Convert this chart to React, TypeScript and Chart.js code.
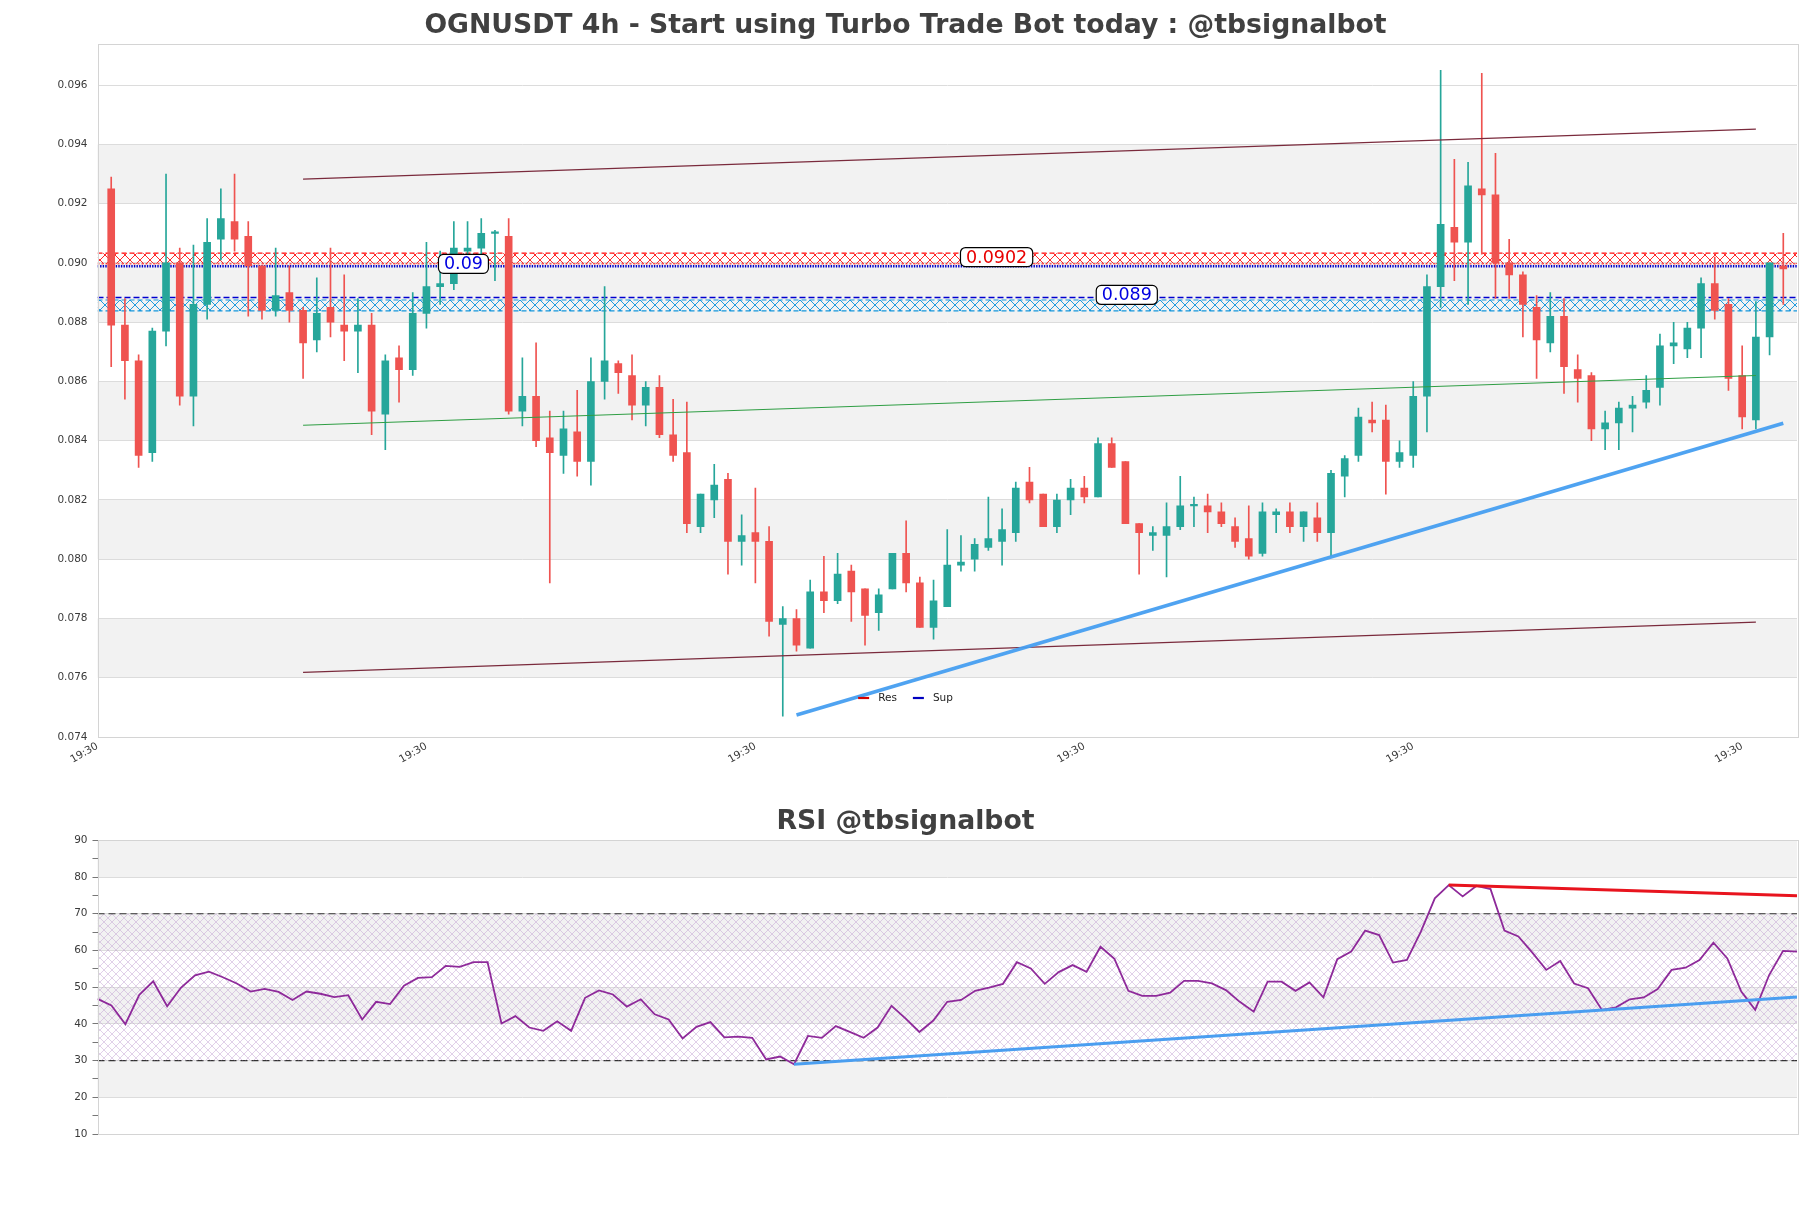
import React, { useEffect, useRef } from 'react';
import { Chart, registerables } from 'chart.js';

Chart.register(...registerables);

const FONT = "'DejaVu Sans', 'Liberation Sans', sans-serif";
const UP = '#26a69a';
const DOWN = '#ef5350';

// ---------- price data (4h candles) ----------
const opens = [
  0.0925, 0.0879, 0.0867, 0.0836, 0.0877, 0.0900, 0.0855, 0.0886, 0.0908, 0.0914,
  0.0909, 0.0899, 0.0884, 0.0890, 0.0884, 0.0874, 0.0885, 0.0879, 0.0877, 0.0879,
  0.0849, 0.0868, 0.0864, 0.0883, 0.0892, 0.0893, 0.0904, 0.0905, 0.0910, 0.0909,
  0.0850, 0.0855, 0.0841, 0.0835, 0.0843, 0.0833, 0.0860, 0.0866, 0.0862, 0.0852,
  0.0858, 0.0842, 0.0836, 0.0811, 0.0820, 0.0827, 0.0806, 0.0809, 0.0806, 0.0778,
  0.0780, 0.0770, 0.0789, 0.0786, 0.0796, 0.0790, 0.0782, 0.0790, 0.0802, 0.0792,
  0.0777, 0.0784, 0.0798, 0.0800, 0.0804, 0.0806, 0.0809, 0.0826, 0.0822, 0.0811,
  0.0820, 0.0824, 0.0821, 0.0839, 0.0833, 0.0812, 0.0808, 0.0808, 0.0811, 0.0818,
  0.0818, 0.0816, 0.0811, 0.0807, 0.0802, 0.0815, 0.0816, 0.0811, 0.0814, 0.0809,
  0.0828, 0.0835, 0.0847, 0.0847, 0.0833, 0.0835, 0.0855, 0.0892, 0.0912, 0.0907,
  0.0925, 0.0923, 0.0900, 0.0896, 0.0885, 0.0873, 0.0882, 0.0864, 0.0862, 0.0844,
  0.0846, 0.0851, 0.0853, 0.0858, 0.0872, 0.0871, 0.0878, 0.0893, 0.0886, 0.0862,
  0.0847, 0.0875, 0.0899,
];
const highs = [
  0.0929, 0.0888, 0.0869, 0.0878, 0.0930, 0.0905, 0.0906, 0.0915, 0.0925, 0.0930,
  0.0914, 0.0899, 0.0905, 0.0899, 0.0885, 0.0895, 0.0905, 0.0896, 0.0888, 0.0883,
  0.0869, 0.0872, 0.0890, 0.0907, 0.0904, 0.0914, 0.0914, 0.0915, 0.0911, 0.0915,
  0.0868, 0.0873, 0.0850, 0.0850, 0.0857, 0.0868, 0.0892, 0.0867, 0.0869, 0.0860,
  0.0862, 0.0854, 0.0853, 0.0822, 0.0832, 0.0829, 0.0815, 0.0824, 0.0811, 0.0784,
  0.0783, 0.0793, 0.0801, 0.0802, 0.0798, 0.0790, 0.0790, 0.0802, 0.0813, 0.0794,
  0.0793, 0.0810, 0.0808, 0.0807, 0.0821, 0.0817, 0.0826, 0.0831, 0.0822, 0.0822,
  0.0827, 0.0828, 0.0841, 0.0841, 0.0833, 0.0812, 0.0811, 0.0819, 0.0828, 0.0821,
  0.0822, 0.0819, 0.0814, 0.0818, 0.0819, 0.0817, 0.0819, 0.0816, 0.0819, 0.0830,
  0.0835, 0.0851, 0.0853, 0.0852, 0.0840, 0.0860, 0.0896, 0.0965, 0.0935, 0.0934,
  0.0964, 0.0937, 0.0908, 0.0897, 0.0889, 0.0890, 0.0888, 0.0869, 0.0863, 0.0850,
  0.0853, 0.0855, 0.0862, 0.0876, 0.0880, 0.0880, 0.0895, 0.0902, 0.0888, 0.0872,
  0.0887, 0.0900, 0.0910,
];
const lows = [
  0.0865, 0.0854, 0.0831, 0.0833, 0.0872, 0.0852, 0.0845, 0.0881, 0.0901, 0.0904,
  0.0882, 0.0881, 0.0882, 0.0880, 0.0861, 0.0870, 0.0875, 0.0867, 0.0863, 0.0842,
  0.0837, 0.0853, 0.0862, 0.0878, 0.0886, 0.0891, 0.0899, 0.0903, 0.0894, 0.0849,
  0.0845, 0.0838, 0.0792, 0.0829, 0.0828, 0.0825, 0.0854, 0.0856, 0.0847, 0.0845,
  0.0841, 0.0833, 0.0809, 0.0809, 0.0814, 0.0795, 0.0798, 0.0792, 0.0774, 0.0747,
  0.0769, 0.0770, 0.0782, 0.0785, 0.0779, 0.0771, 0.0776, 0.0790, 0.0789, 0.0777,
  0.0773, 0.0784, 0.0796, 0.0796, 0.0803, 0.0798, 0.0806, 0.0819, 0.0811, 0.0809,
  0.0815, 0.0819, 0.0821, 0.0831, 0.0812, 0.0795, 0.0803, 0.0794, 0.0810, 0.0811,
  0.0809, 0.0811, 0.0804, 0.0800, 0.0801, 0.0809, 0.0809, 0.0806, 0.0806, 0.0801,
  0.0821, 0.0833, 0.0843, 0.0822, 0.0831, 0.0831, 0.0843, 0.0885, 0.0894, 0.0886,
  0.0903, 0.0888, 0.0888, 0.0875, 0.0861, 0.0870, 0.0856, 0.0853, 0.0840, 0.0837,
  0.0837, 0.0843, 0.0851, 0.0852, 0.0866, 0.0868, 0.0868, 0.0881, 0.0857, 0.0844,
  0.0844, 0.0869, 0.0886,
];
const closes = [
  0.0879, 0.0867, 0.0835, 0.0877, 0.0900, 0.0855, 0.0886, 0.0907, 0.0915, 0.0908,
  0.0899, 0.0884, 0.0889, 0.0884, 0.0873, 0.0883, 0.0880, 0.0877, 0.0879, 0.0850,
  0.0867, 0.0864, 0.0883, 0.0892, 0.0893, 0.0905, 0.0905, 0.0910, 0.0910, 0.0850,
  0.0855, 0.0840, 0.0836, 0.0844, 0.0833, 0.0860, 0.0867, 0.0863, 0.0852, 0.0858,
  0.0842, 0.0835, 0.0812, 0.0822, 0.0825, 0.0806, 0.0808, 0.0806, 0.0779, 0.0780,
  0.0771, 0.0789, 0.0786, 0.0795, 0.0789, 0.0781, 0.0788, 0.0802, 0.0792, 0.0777,
  0.0786, 0.0798, 0.0799, 0.0805, 0.0807, 0.0810, 0.0824, 0.0820, 0.0811, 0.0820,
  0.0824, 0.0821, 0.0839, 0.0831, 0.0812, 0.0809, 0.0809, 0.0811, 0.0818, 0.0818,
  0.0816, 0.0812, 0.0806, 0.0801, 0.0816, 0.0816, 0.0811, 0.0816, 0.0809, 0.0829,
  0.0834, 0.0848, 0.0846, 0.0833, 0.0836, 0.0855, 0.0892, 0.0913, 0.0907, 0.0926,
  0.0923, 0.0900, 0.0896, 0.0886, 0.0874, 0.0882, 0.0865, 0.0861, 0.0844, 0.0846,
  0.0851, 0.0852, 0.0857, 0.0872, 0.0873, 0.0878, 0.0893, 0.0884, 0.0861, 0.0848,
  0.0875, 0.0900, 0.0898,
];

// ---------- RSI ----------
const rsiValues = [
  46.8, 45.0, 39.9, 47.9, 51.6, 44.8, 49.9, 53.2, 54.2, 52.7,
  51.0, 48.8, 49.5, 48.7, 46.5, 48.8, 48.2, 47.3, 47.8, 41.2,
  46.0, 45.4, 50.4, 52.5, 52.7, 55.8, 55.5, 56.8, 56.8, 40.1,
  42.1, 39.0, 38.1, 40.7, 38.1, 47.1, 49.1, 48.0, 44.7, 46.7,
  42.6, 41.2, 36.0, 39.2, 40.5, 36.3, 36.5, 36.2, 30.3, 31.1,
  29.0, 36.7, 36.2, 39.4, 37.8, 36.2, 39.0, 44.9, 41.5, 37.8,
  40.9, 46.0, 46.5, 49.0, 49.9, 50.9, 56.8, 55.1, 50.9, 54.1,
  56.0, 54.2, 61.0, 57.7, 49.0, 47.6, 47.6, 48.5, 51.7, 51.7,
  51.0, 49.2, 46.0, 43.3, 51.5, 51.5, 49.0, 51.3, 47.2, 57.6,
  59.7, 65.4, 64.2, 56.7, 57.4, 65.1, 74.2, 77.8, 74.7, 77.6,
  76.7, 65.4, 63.8, 59.4, 54.7, 57.1, 51.0, 49.7, 43.8, 44.5,
  46.7, 47.2, 49.5, 54.7, 55.3, 57.4, 62.1, 57.8, 48.8, 43.8,
  53.3, 59.9, 59.7,
];

// ---------- axes ----------
const xRange = [-1, 123];
const rsiXRange = [0, 122];
const xTickPositions = [-1, 23, 47, 71, 95, 119];
const xTickLabels = ['19:30', '19:30', '19:30', '19:30', '19:30', '19:30'];
const priceRange = [0.074, 0.09739];
const priceTicks = [0.074, 0.076, 0.078, 0.08, 0.082, 0.084, 0.086, 0.088, 0.09, 0.092, 0.094, 0.096];
const priceBands = [[0.076, 0.078], [0.08, 0.082], [0.084, 0.086], [0.088, 0.09], [0.092, 0.094]];
const rsiRange = [10, 90];
const rsiBands = [[20, 30], [40, 50], [60, 70], [80, 90]];

// ---------- overlays ----------
const channelUpper = [{ x: 14, y: 0.09283 }, { x: 120, y: 0.09452 }];
const channelLower = [{ x: 14, y: 0.07618 }, { x: 120, y: 0.07788 }];
const channelMid = [{ x: 14, y: 0.08452 }, { x: 120, y: 0.0862 }];
const supportTrend = [{ x: 50, y: 0.07474 }, { x: 122, y: 0.08459 }];
const resZone = [0.09033, 0.08997];
const supZone = [0.08875, 0.08838];
const supDottedLevel = 0.08989;
const supDashedLevel = 0.08883;
const levelTags = [
  { text: '0.0902', x: 64.6, y: 0.0902, color: '#e80000' },
  { text: '0.09', x: 25.7, y: 0.08997, color: '#0000e0' },
  { text: '0.089', x: 74.1, y: 0.08892, color: '#0000e0' },
];
const legendItems = [
  { label: 'Res', color: '#d40000' },
  { label: 'Sup', color: '#0000c0' },
];
const rsiResTrend = [{ x: 97, y: 77.8 }, { x: 122, y: 74.9 }];
const rsiSupTrend = [{ x: 50, y: 29.0 }, { x: 122, y: 47.3 }];
const rsiLevels = [70, 30];

const MAIN_TITLE = 'OGNUSDT 4h - Start using Turbo Trade Bot today : @tbsignalbot';
const RSI_TITLE = 'RSI @tbsignalbot';

function makeHatch(color: string, size: number, lw: number): CanvasPattern {
  const c = document.createElement('canvas');
  c.width = size;
  c.height = size;
  const g = c.getContext('2d')!;
  g.strokeStyle = color;
  g.lineWidth = lw;
  g.beginPath();
  g.moveTo(-1, -1);
  g.lineTo(size + 1, size + 1);
  g.moveTo(size + 1, -1);
  g.lineTo(-1, size + 1);
  g.stroke();
  return g.createPattern(c, 'repeat')!;
}

const hline = (v: number, range: number[]) => [{ x: range[0], y: v }, { x: range[1], y: v }];

function bandsPlugin(bands: number[][]) {
  return {
    id: 'bands',
    beforeDraw(chart: any) {
      const { ctx, chartArea, scales } = chart;
      ctx.save();
      ctx.fillStyle = '#f2f2f2';
      for (const [a, b] of bands) {
        const t = scales.y.getPixelForValue(b);
        const bt = scales.y.getPixelForValue(a);
        ctx.fillRect(chartArea.left, t, chartArea.right - chartArea.left, bt - t);
      }
      ctx.restore();
    },
  };
}

function framePlugin() {
  return {
    id: 'frame',
    afterDraw(chart: any) {
      const { ctx, chartArea } = chart;
      ctx.save();
      ctx.strokeStyle = '#d4d4d4';
      ctx.lineWidth = 1;
      ctx.strokeRect(
        Math.round(chartArea.left) + 0.5,
        Math.round(chartArea.top) + 0.5,
        Math.round(chartArea.right - chartArea.left),
        Math.round(chartArea.bottom - chartArea.top)
      );
      ctx.restore();
    },
  };
}

function titlePlugin(text: string, baseline: number) {
  return {
    id: 'figTitle',
    afterDraw(chart: any) {
      const { ctx, width } = chart;
      ctx.save();
      ctx.font = `bold 26.7px ${FONT}`;
      ctx.fillStyle = '#404040';
      ctx.textAlign = 'center';
      ctx.textBaseline = 'alphabetic';
      ctx.fillText(text, width / 2, baseline);
      ctx.restore();
    },
  };
}

function tagsPlugin() {
  return {
    id: 'tags',
    afterDatasetsDraw(chart: any) {
      const { ctx, scales } = chart;
      ctx.save();
      ctx.font = `17.5px ${FONT}`;
      for (const t of levelTags) {
        const px = scales.x.getPixelForValue(t.x);
        const py = scales.y.getPixelForValue(t.y);
        const w = ctx.measureText(t.text).width + 11;
        const h = 19;
        const x0 = px - w / 2;
        const y0 = py - h / 2;
        const r = 5;
        ctx.beginPath();
        ctx.moveTo(x0 + r, y0);
        ctx.lineTo(x0 + w - r, y0);
        ctx.arcTo(x0 + w, y0, x0 + w, y0 + r, r);
        ctx.lineTo(x0 + w, y0 + h - r);
        ctx.arcTo(x0 + w, y0 + h, x0 + w - r, y0 + h, r);
        ctx.lineTo(x0 + r, y0 + h);
        ctx.arcTo(x0, y0 + h, x0, y0 + h - r, r);
        ctx.lineTo(x0, y0 + r);
        ctx.arcTo(x0, y0, x0 + r, y0, r);
        ctx.closePath();
        ctx.fillStyle = '#ffffff';
        ctx.fill();
        ctx.strokeStyle = '#000000';
        ctx.lineWidth = 1.2;
        ctx.stroke();
        ctx.fillStyle = t.color;
        ctx.textAlign = 'center';
        ctx.textBaseline = 'middle';
        ctx.fillText(t.text, px, py + 1);
      }
      ctx.restore();
    },
  };
}

function legendPlugin() {
  return {
    id: 'miniLegend',
    afterDraw(chart: any) {
      const { ctx, chartArea, width } = chart;
      ctx.save();
      ctx.font = `10.5px ${FONT}`;
      const lineLen = 11;
      const gapAfterLine = 9;
      const gapItems = 16;
      let total = 0;
      legendItems.forEach((it, i) => {
        total += lineLen + gapAfterLine + ctx.measureText(it.label).width + (i < legendItems.length - 1 ? gapItems : 0);
      });
      let x = width / 2 - total / 2;
      const y = chartArea.bottom - 39;
      ctx.textBaseline = 'middle';
      ctx.textAlign = 'left';
      for (const it of legendItems) {
        ctx.strokeStyle = it.color;
        ctx.lineWidth = 2.2;
        ctx.beginPath();
        ctx.moveTo(x, y);
        ctx.lineTo(x + lineLen, y);
        ctx.stroke();
        x += lineLen + gapAfterLine;
        ctx.fillStyle = '#222';
        ctx.fillText(it.label, x, y);
        x += ctx.measureText(it.label).width + gapItems;
      }
      ctx.restore();
    },
  };
}

export default function App() {
  const mainRef = useRef<HTMLCanvasElement>(null);
  const rsiRef = useRef<HTMLCanvasElement>(null);

  useEffect(() => {
    const idx = closes.map((_, i) => i);
    const candleColors = idx.map((i) => (closes[i] >= opens[i] ? UP : DOWN));
    const bodies = idx.map((i) => ({ x: i, y: [opens[i], closes[i]] }));
    const wicks = idx.map((i) => ({ x: i, y: [lows[i], highs[i]] }));

    const resHatch = makeHatch('rgba(255,30,30,0.95)', 10, 1);
    const supHatch = makeHatch('rgba(20,150,220,0.95)', 10, 1);
    const rsiHatch = makeHatch('rgba(185,150,205,0.55)', 8, 0.8);

    const lineBase = { type: 'line', pointRadius: 0, pointHoverRadius: 0, tension: 0, fill: false };
    const tickFont = { family: FONT, size: 10.5 };

    const main = new Chart(mainRef.current!, {
      type: 'bar',
      data: {
        datasets: [
          { ...lineBase, data: hline(resZone[0], xRange), borderColor: '#ff1010', borderWidth: 1.4, borderDash: [5, 3], fill: '+1', backgroundColor: resHatch, order: 20 },
          { ...lineBase, data: hline(resZone[1], xRange), borderColor: '#ff1010', borderWidth: 1, borderDash: [2, 2], order: 20 },
          { ...lineBase, data: hline(supZone[0], xRange), borderColor: '#1496dc', borderWidth: 1.2, borderDash: [5, 3], fill: '+1', backgroundColor: supHatch, order: 20 },
          { ...lineBase, data: hline(supZone[1], xRange), borderColor: '#1496dc', borderWidth: 1.2, borderDash: [5, 3], order: 20 },
          { ...lineBase, data: hline(supDottedLevel, xRange), borderColor: '#0000c8', borderWidth: 2.6, borderDash: [1.4, 1.2], order: 19 },
          { ...lineBase, data: hline(supDashedLevel, xRange), borderColor: '#0000d0', borderWidth: 1.5, borderDash: [6, 3], order: 19 },
          { type: 'bar', data: wicks, backgroundColor: candleColors, barThickness: 1, grouped: false, order: 3 },
          { type: 'bar', data: bodies, backgroundColor: candleColors, barThickness: 7, grouped: false, minBarLength: 1.5, order: 2 },
          { ...lineBase, data: channelUpper, borderColor: '#7a2a3c', borderWidth: 1.2, order: 1 },
          { ...lineBase, data: channelLower, borderColor: '#7a2a3c', borderWidth: 1.2, order: 1 },
          { ...lineBase, data: channelMid, borderColor: '#2f9e44', borderWidth: 1.1, order: 1 },
          { ...lineBase, data: supportTrend, borderColor: 'rgba(70,158,240,0.95)', borderWidth: 3.6, order: 0 },
        ] as any,
      },
      options: {
        responsive: false,
        animation: false,
        events: [],
        layout: { padding: { left: 0, right: 14, top: 44, bottom: 0 } },
        plugins: { legend: { display: false }, title: { display: false }, tooltip: { enabled: false } },
        scales: {
          x: {
            type: 'linear',
            min: xRange[0],
            max: xRange[1],
            offset: false,
            grid: { display: false, drawTicks: false },
            border: { display: false },
            afterBuildTicks: (s: any) => {
              s.ticks = xTickPositions.map((v) => ({ value: v }));
            },
            afterFit: (s: any) => {
              s.height = 33;
            },
            ticks: {
              autoSkip: false,
              maxRotation: 30,
              minRotation: 30,
              padding: 3,
              color: '#3a3a3a',
              font: tickFont,
              callback: (_v: any, i: number) => xTickLabels[i],
            },
          },
          y: {
            type: 'linear',
            min: priceRange[0],
            max: priceRange[1],
            grid: { color: '#dcdcdc', drawTicks: false },
            border: { display: false },
            afterBuildTicks: (s: any) => {
              s.ticks = priceTicks.map((v) => ({ value: v }));
            },
            afterFit: (s: any) => {
              s.width = 97.5;
            },
            ticks: {
              padding: 10,
              color: '#3a3a3a',
              font: tickFont,
              callback: (v: any) => Number(v).toFixed(3),
            },
          },
        },
      } as any,
      plugins: [bandsPlugin(priceBands), framePlugin(), titlePlugin(MAIN_TITLE, 32.5), tagsPlugin(), legendPlugin()] as any,
    });

    const rsiChart = new Chart(rsiRef.current!, {
      type: 'line',
      data: {
        datasets: [
          { ...lineBase, data: hline(rsiLevels[0], rsiXRange), borderColor: '#333', borderWidth: 1.2, borderDash: [7, 4], fill: '+1', backgroundColor: rsiHatch, order: 10 },
          { ...lineBase, data: hline(rsiLevels[1], rsiXRange), borderColor: '#333', borderWidth: 1.2, borderDash: [7, 4], order: 10 },
          { ...lineBase, data: rsiValues.map((v, i) => ({ x: i, y: v })), borderColor: '#8e2a9a', borderWidth: 1.8, order: 2 },
          { ...lineBase, data: rsiResTrend, borderColor: '#e8141e', borderWidth: 3, order: 1 },
          { ...lineBase, data: rsiSupTrend, borderColor: '#4a9ef0', borderWidth: 3, order: 1 },
        ] as any,
      },
      options: {
        responsive: false,
        animation: false,
        events: [],
        layout: { padding: { left: 0, right: 14, top: 70.3, bottom: 74 } },
        plugins: { legend: { display: false }, title: { display: false }, tooltip: { enabled: false } },
        scales: {
          x: { type: 'linear', min: rsiXRange[0], max: rsiXRange[1], display: false },
          y: {
            type: 'linear',
            min: rsiRange[0],
            max: rsiRange[1],
            border: { display: false },
            grid: {
              color: (c: any) => (c.tick && c.tick.value % 10 === 0 ? '#dcdcdc' : 'rgba(0,0,0,0)'),
              tickColor: '#777',
              tickLength: 5,
              drawTicks: true,
            },
            afterFit: (s: any) => {
              s.width = 97.5;
            },
            ticks: {
              stepSize: 5,
              autoSkip: false,
              padding: 5,
              color: '#3a3a3a',
              font: tickFont,
              callback: (v: any) => (Number(v) % 10 === 0 ? String(v) : ''),
            },
          },
        },
      } as any,
      plugins: [bandsPlugin(rsiBands), framePlugin(), titlePlugin(RSI_TITLE, 59.3)] as any,
    });

    return () => {
      main.destroy();
      rsiChart.destroy();
    };
  }, []);

  return (
    <div style={{ position: 'absolute', left: 0, top: 0, width: 1811, height: 1208, background: '#ffffff' }}>
      <canvas ref={mainRef} width={1811} height={770} style={{ position: 'absolute', left: 0, top: 0, width: 1811, height: 770 }} />
      <canvas ref={rsiRef} width={1811} height={438} style={{ position: 'absolute', left: 0, top: 770, width: 1811, height: 438 }} />
    </div>
  );
}
